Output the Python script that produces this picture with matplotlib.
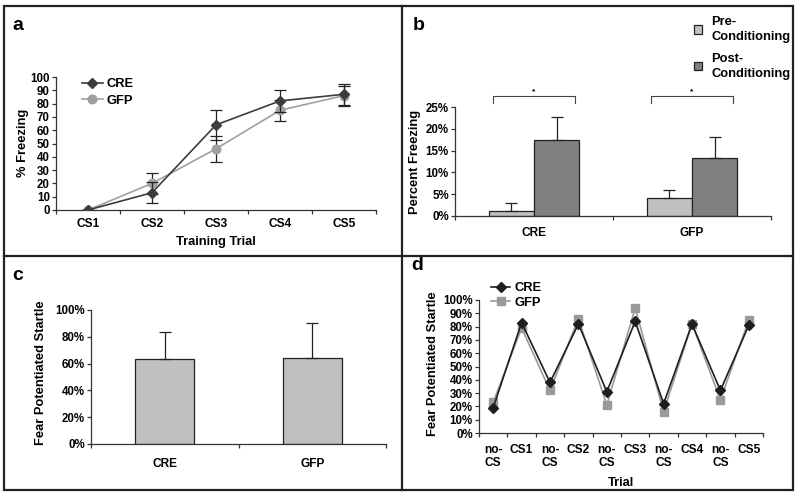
import matplotlib
matplotlib.use("Agg")
import matplotlib.pyplot as plt
import numpy as np
from matplotlib.patches import Rectangle, Patch
from matplotlib.lines import Line2D
from matplotlib.ticker import FixedLocator, PercentFormatter

plt.rcParams['font.family'] = ['Liberation Sans', 'DejaVu Sans']
plt.rcParams['font.weight'] = 'bold'

# ---- data ----
a_trials = ["CS1", "CS2", "CS3", "CS4", "CS5"]
a_cre = [0, 13, 64, 82, 87]
a_cre_err = [0, 8, 11, 8.5, 8]
a_gfp = [0, 20, 46, 75, 86]
a_gfp_err = [0, 8, 10, 8, 7.5]

b_groups = ["CRE", "GFP"]
b_pre = [1.2, 4.1]
b_pre_err = [1.8, 1.8]
b_post = [17.4, 13.3]
b_post_err = [5.2, 4.9]

c_groups = ["CRE", "GFP"]
c_vals = [63.5, 64.5]
c_err = [20, 25.5]

d_trials = ["no-\nCS", "CS1", "no-\nCS", "CS2", "no-\nCS", "CS3", "no-\nCS", "CS4", "no-\nCS", "CS5"]
d_cre = [19, 83, 38, 82, 31, 84, 22, 82, 32, 81]
d_gfp = [23, 79, 32, 86, 21, 94, 16, 82, 25, 85]

W, H = 800, 496
fig = plt.figure(figsize=(8, 4.96), dpi=100)

def box(l, t, r, b):
    return [l / W, 1 - b / H, (r - l) / W, (b - t) / H]

FS = 8.3
LFS = 9.3
AXC = '#333333'

def style(ax):
    for s in ['top', 'right']:
        ax.spines[s].set_visible(False)
    for s in ['left', 'bottom']:
        ax.spines[s].set_color(AXC)
        ax.spines[s].set_linewidth(0.9)
    ax.tick_params(axis='y', direction='out', length=3, width=0.9, color=AXC, labelsize=FS, pad=1.5)
    ax.tick_params(axis='x', which='major', length=0, labelsize=FS + 0.3, pad=6)
    ax.tick_params(axis='x', which='minor', direction='out', length=3, width=0.9, color=AXC)
    for lab in ax.get_xticklabels() + ax.get_yticklabels():
        lab.set_fontweight('bold')

def cat_axis(ax, n):
    ax.set_xlim(-0.5, n - 0.5)
    ax.set_xticks(np.arange(n))
    ax.xaxis.set_minor_locator(FixedLocator(np.arange(n + 1) - 0.5))

# ---- panel a ----
ax = fig.add_axes(box(56, 77, 376, 210))
x = np.arange(len(a_trials))
ax.errorbar(x, a_cre, yerr=a_cre_err, color='#3c3c3c', ecolor='#222222', elinewidth=0.9,
            capsize=4.5, capthick=0.9, marker='D', markersize=5, lw=1.2, label='CRE', zorder=3)
ax.errorbar(x, a_gfp, yerr=a_gfp_err, color='#a0a0a0', ecolor='#222222', elinewidth=0.9,
            capsize=4.5, capthick=0.9, marker='o', markersize=6.2, lw=1.2, label='GFP', zorder=2)
cat_axis(ax, len(a_trials))
ax.set_xticklabels(a_trials)
ax.set_ylim(0, 100)
ax.set_yticks(np.arange(0, 101, 10))
ax.set_ylabel("% Freezing", fontsize=LFS, fontweight='bold')
ax.yaxis.set_label_coords(29 / W, 1 - 143 / H, transform=fig.transFigure)
ax.set_xlabel("Training Trial", fontsize=LFS, fontweight='bold', labelpad=4)
style(ax)
h = [Line2D([], [], color='#3c3c3c', marker='D', markersize=5, lw=1.2),
     Line2D([], [], color='#a0a0a0', marker='o', markersize=6.2, lw=1.2)]
ax.legend(h, ['CRE', 'GFP'], loc='upper left', bbox_to_anchor=(82 / W, 1 - 78 / H),
          bbox_transform=fig.transFigure, frameon=False,
          handlelength=1.6, handletextpad=0.3, labelspacing=0.35, borderpad=0, borderaxespad=0,
          prop={'weight': 'bold', 'size': LFS})

# ---- panel b ----
ax = fig.add_axes(box(455, 107, 771, 216))
xb = np.arange(len(b_groups))
bw = 0.285
ek = dict(elinewidth=0.9, capthick=0.9, ecolor='#222222', capsize=4.5)
ax.bar(xb - bw / 2, b_pre, bw, yerr=[[0, 0], b_pre_err], color='#c0c0c0', edgecolor='#222222',
       linewidth=0.9, error_kw=ek, label='Pre-\nConditioning')
ax.bar(xb + bw / 2, b_post, bw, yerr=[[0, 0], b_post_err], color='#808080', edgecolor='#222222',
       linewidth=0.9, error_kw=ek, label='Post-\nConditioning')
cat_axis(ax, len(b_groups))
ax.set_xticklabels(b_groups)
ax.set_ylim(0, 25)
ax.set_yticks(np.arange(0, 26, 5))
ax.yaxis.set_major_formatter(PercentFormatter(decimals=0))
ax.set_ylabel("Percent Freezing", fontsize=LFS, fontweight='bold')
ax.yaxis.set_label_coords(421 / W, 1 - 162 / H, transform=fig.transFigure)
style(ax)
ax.tick_params(axis='x', which='major', pad=8)
for i in range(len(b_groups)):
    x0, x1 = xb[i] - bw * 0.9, xb[i] + bw * 0.9
    ax.plot([x0, x0, x1, x1], [25.9, 27.5, 27.5, 25.9], color='#444444', lw=0.8, clip_on=False)
    ax.text(xb[i], 27.7, '*', ha='center', va='bottom', fontsize=6, clip_on=False)
leg = ax.legend(loc='upper left', bbox_to_anchor=(694 / W, 1 - 16 / H), bbox_transform=fig.transFigure,
                frameon=False, handlelength=0.6, handleheight=0.6, handletextpad=0.75, labelspacing=0.75,
                borderpad=0, borderaxespad=0, prop={'weight': 'bold', 'size': LFS})
for t in leg.get_texts():
    t.set_linespacing(1.35)

# ---- panel c ----
ax = fig.add_axes(box(91, 310, 386, 444))
xc = np.arange(len(c_groups))
ax.bar(xc, c_vals, 0.4, yerr=[[0, 0], c_err], color='#c0c0c0', edgecolor='#222222', linewidth=0.9,
       error_kw=ek)
cat_axis(ax, len(c_groups))
ax.set_xticklabels(c_groups)
ax.set_ylim(0, 100)
ax.set_yticks(np.arange(0, 101, 20))
ax.yaxis.set_major_formatter(PercentFormatter(decimals=0))
ax.set_ylabel("Fear Potentiated Startle", fontsize=LFS, fontweight='bold')
ax.yaxis.set_label_coords(47 / W, 1 - 373 / H, transform=fig.transFigure)
style(ax)
ax.tick_params(axis='x', which='major', pad=10)

# ---- panel d ----
ax = fig.add_axes(box(479, 300, 763, 433))
xd = np.arange(len(d_trials))
ax.plot(xd, d_cre, color='#1e1e1e', marker='D', markersize=4.6, lw=1.2, label='CRE', zorder=3)
ax.plot(xd, d_gfp, color='#9a9a9a', marker='s', markersize=6, lw=1.2, label='GFP', zorder=2)
cat_axis(ax, len(d_trials))
ax.set_xticklabels(d_trials, linespacing=1.05)
ax.set_ylim(0, 100)
ax.set_yticks(np.arange(0, 101, 10))
ax.yaxis.set_major_formatter(PercentFormatter(decimals=0))
ax.set_ylabel("Fear Potentiated Startle", fontsize=LFS, fontweight='bold')
ax.yaxis.set_label_coords(439 / W, 1 - 364 / H, transform=fig.transFigure)
ax.set_xlabel("Trial", fontsize=LFS, fontweight='bold', labelpad=6)
style(ax)
ax.tick_params(axis='x', which='major', pad=8)
ax.legend(loc='upper left', bbox_to_anchor=(491 / W, 1 - 282 / H), bbox_transform=fig.transFigure,
          frameon=False, handlelength=1.5, handletextpad=0.3, labelspacing=0.2,
          borderpad=0, borderaxespad=0, prop={'weight': 'bold', 'size': LFS})

# ---- panel frames and letters ----
lc = '#222222'
fig.add_artist(Rectangle((4 / W, 1 - 490 / H), (793 - 4) / W, (490 - 6) / H, transform=fig.transFigure,
                         fill=False, edgecolor=lc, lw=1.6))
fig.add_artist(Line2D([402 / W, 402 / W], [1 - 490 / H, 1 - 6 / H], transform=fig.transFigure, color=lc, lw=1.6))
fig.add_artist(Line2D([4 / W, 793 / W], [1 - 256 / H, 1 - 256 / H], transform=fig.transFigure, color=lc, lw=1.6))
for letter, px, py in [('a', 18, 25), ('b', 419, 25), ('c', 18, 275), ('d', 417, 266)]:
    fig.text(px / W, 1 - py / H, letter, ha='center', va='center', fontsize=14, fontweight='bold')

fig.savefig("out.png", dpi=100)
